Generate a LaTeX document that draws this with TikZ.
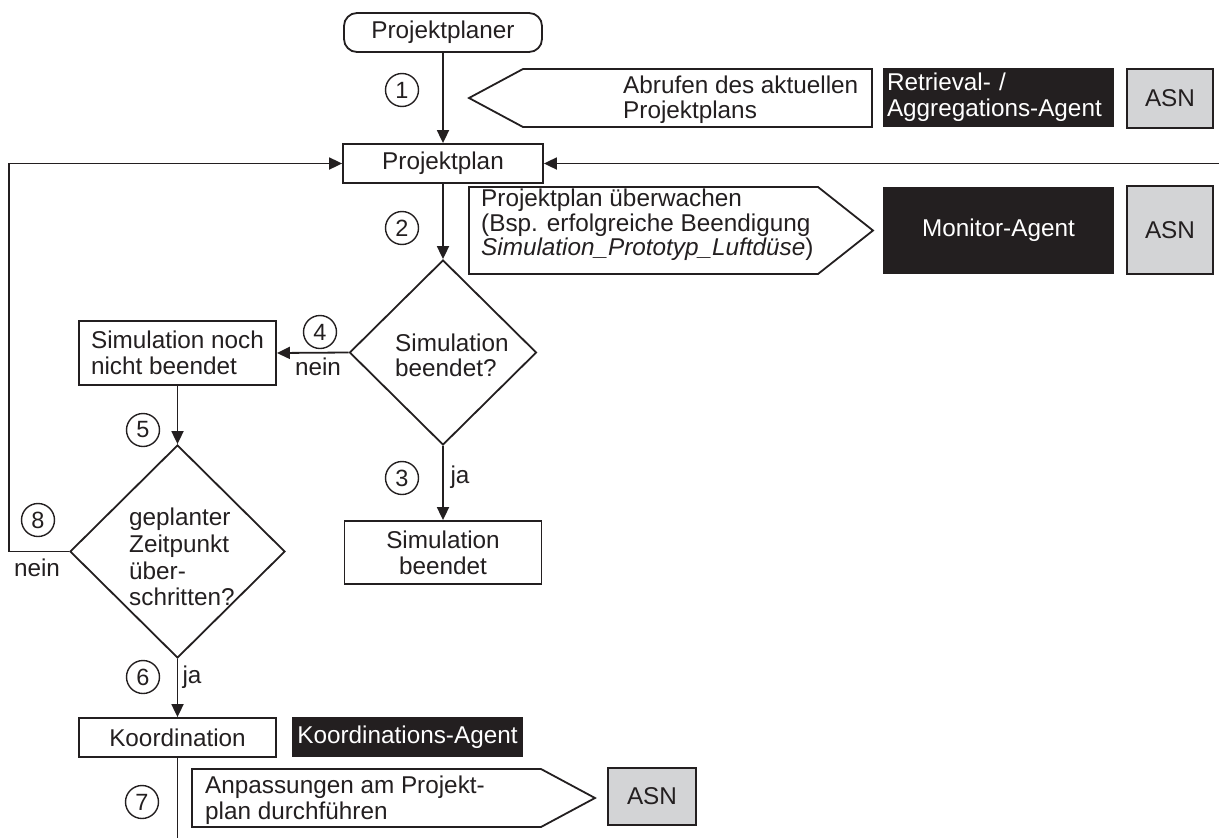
\documentclass[tikz,border=0pt]{standalone}
\usepackage{fontspec}
\setmainfont{Liberation Sans}
\usetikzlibrary{arrows.meta,shapes.geometric}
\definecolor{ink}{HTML}{231F20}
\definecolor{asngray}{HTML}{D3D4D6}

\begin{document}
\begin{tikzpicture}[x=1pt,y=-1pt,
  every node/.style={font=\fontsize{24.3pt}{26pt}\selectfont, text=ink},
  line/.style={draw=ink, line width=1.8pt},
  flow/.style={line, -{Triangle[length=13pt,width=12pt]}},
  box/.style={line, rectangle, inner sep=0pt, fill=white},
  agent/.style={rectangle, fill=ink, text=white, inner sep=0pt},
  asn/.style={rectangle, draw=ink, line width=1.8pt, fill=asngray, inner sep=0pt, minimum width=86pt},
  numc/.style={circle, draw=ink, line width=1.4pt, minimum size=33pt, inner sep=0pt, font=\fontsize{23.5pt}{26pt}\selectfont},
  decision/.style={diamond, draw=ink, line width=1.8pt, inner sep=0pt},
  sign/.style={line, fill=white, line join=miter},
  txt/.style={inner sep=0pt, align=left, anchor=west},
  lbl/.style={inner sep=0pt}
]
\useasboundingbox (0,0) rectangle (1219,838);

% --- start: planner and plan ---
\node[box, rounded corners=13pt, minimum width=198pt, minimum height=39pt] (planer) at (443,32.5) {Projektplaner};
\node[box, minimum width=200pt, minimum height=39pt] (plan) at (443,163.5) {Projektplan};
\draw[flow] (planer) -- (plan);
\node[numc] (n1) at (402,90) {1};

% retrieval signpost
\draw[sign] (469,98) -- (523,69) -- (872,69) -- (872,127) -- (523,127) -- cycle;
\node[txt] (t1) at (623,100) {Abrufen des aktuellen\\[-1pt]Projektplans};
\node[agent, minimum width=231pt, minimum height=59pt, align=left, text width=223pt, inner xsep=4pt] (ret) at (998.5,97.5) {Retrieval- /\\Aggregations-Agent};
\node[asn, minimum height=59pt] (asn1) at (1170,98.5) {ASN};

% feedback entering from the right
\coordinate (feed) at (1219,163.5);
\draw[flow] (feed) -- (plan.east);

% monitoring signpost
\draw[sign] (469,187) -- (818,187) -- (873,230.5) -- (818,274) -- (469,274) -- cycle;
\node[txt] (t2) at (481,225) {Projektplan überwachen\\[-1.5pt](Bsp. erfolgreiche Beendigung\\[-1.5pt]\textit{Simulation\_Prototyp\_Luftdüse})};
\node[agent, minimum width=231pt, minimum height=87pt] (mon) at (998.5,230.5) {Monitor-Agent};
\node[asn, minimum height=88pt] (asn2) at (1170,230) {ASN};
\node[numc] (n2) at (402,228) {2};

% first decision
\node[decision, minimum width=187pt, minimum height=185pt] (d1) at (443,352.5) {};
\node[txt] (d1t) at (395,355.5) {Simulation\\[-1pt]beendet?};
\draw[flow] (plan) -- (d1.north);

\node[box, minimum width=197pt, minimum height=64pt, align=left] (simno) at (177.5,353) {Simulation noch\\nicht beendet};
\draw[flow] (d1.west) -- (simno.east);
\node[numc] (n4) at (320,332) {4};
\node[lbl] (nein1) at (318,367) {nein};

\node[box, minimum width=197pt, minimum height=63pt, align=center] (simja) at (443,552.5) {Simulation\\beendet};
\draw[flow] (d1.south) -- (simja.north);
\node[numc] (n3) at (402,478) {3};
\node[lbl] (ja1) at (460,477) {ja};

% second decision
\node[decision, minimum width=215pt, minimum height=213pt] (d2) at (177.5,551.5) {};
\node[txt, font=\fontsize{24.3pt}{26.7pt}\selectfont] (d2t) at (129,557) {geplanter\\Zeitpunkt\\über-\\schritten?};
\draw[flow] (simno.south) -- (d2.north);
\node[numc] (n5) at (143,430) {5};

\draw[flow] (d2.west) -- ++(-60,0) |- (plan.west);
\node[numc] (n8) at (38,520) {8};
\node[lbl] (nein2) at (37,568) {nein};

% coordination
\node[box, minimum width=197pt, minimum height=39pt] (koord) at (177.5,737.5) {Koordination};
\draw[flow] (d2.south) -- (koord.north);
\node[numc] (n6) at (143,677) {6};
\node[lbl] (ja2) at (192,677) {ja};
\node[agent, minimum width=231pt, minimum height=40pt] (kag) at (407.5,737) {Koordinations-Agent};

\coordinate (out) at (177.5,838);
\draw[line] (koord.south) -- (out);
\node[numc] (n7) at (142,802) {7};

% adjustment signpost
\draw[sign] (192,769) -- (541,769) -- (595,798) -- (541,827) -- (192,827) -- cycle;
\node[txt] (t3) at (205,800.5) {Anpassungen am Projekt-\\plan durchführen};
\node[asn, minimum width=88pt, minimum height=57pt] (asn3) at (652,796.5) {ASN};
\end{tikzpicture}
\end{document}
